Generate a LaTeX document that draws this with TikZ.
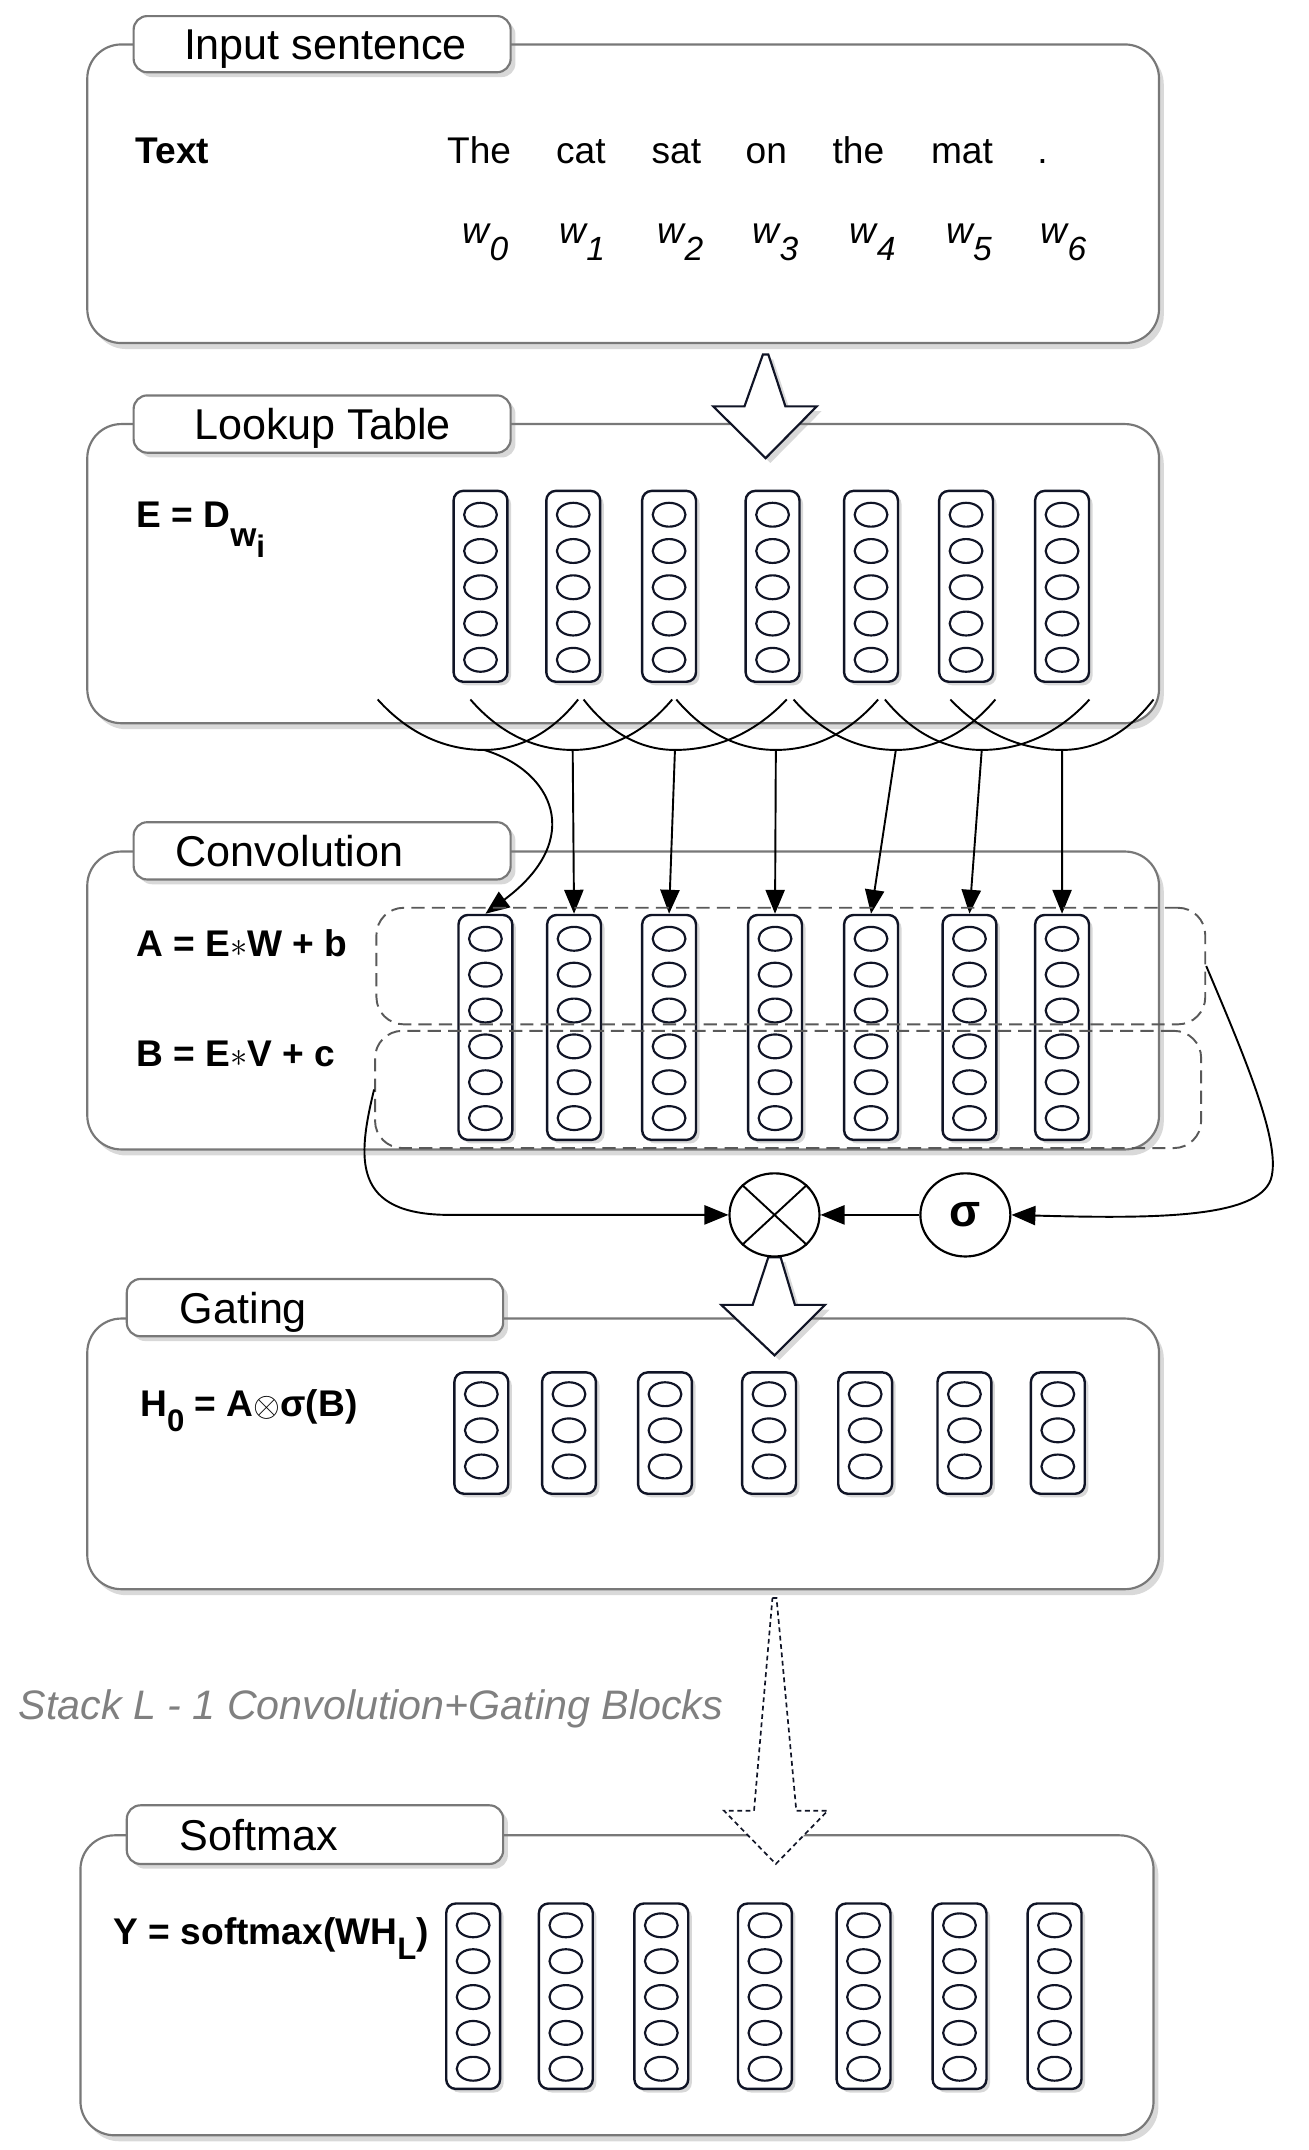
\documentclass[tikz,border=0pt]{standalone}
\usepackage{fontspec}
\setmainfont{Liberation Sans}
\usetikzlibrary{arrows.meta,shadows,shapes.geometric}
\definecolor{ink}{RGB}{16,20,38}
\definecolor{frame}{RGB}{120,120,120}
\begin{document}
\begin{tikzpicture}[x=0.02cm, y=-0.02cm,
  block/.style={draw=frame, line width=0.9pt, rounded corners=0.5cm, fill=white,
    drop shadow={opacity=0.3, shadow xshift=2pt, shadow yshift=-2.5pt}},
  tab/.style={draw=frame, line width=0.9pt, rounded corners=0.2cm, fill=white,
    drop shadow={opacity=0.3, shadow xshift=2pt, shadow yshift=-2pt}},
  title/.style={anchor=base west, inner sep=0, font=\fontsize{18}{20}\selectfont},
  eq/.style={anchor=base west, inner sep=0, font=\bfseries\fontsize{15.5}{18}\selectfont},
  word/.style={anchor=base, inner sep=0, font=\fontsize{15.5}{18}\selectfont},
  wlab/.style={anchor=base west, inner sep=0, font=\itshape\fontsize{15.5}{17}\selectfont},
  vecbox/.style={draw=ink, line width=1pt, rounded corners=0.14cm, fill=white,
    minimum width=0.79cm, inner sep=0,
    drop shadow={opacity=0.3, shadow xshift=1.5pt, shadow yshift=-1.5pt}},
  unit/.style={draw=ink, line width=0.9pt},
  hollow/.style={draw=ink, line width=0.9pt, fill=white, line join=miter,
    drop shadow={opacity=0.3, shadow xshift=2pt, shadow yshift=-2pt}},
  gatebox/.style={draw=black!65, dash pattern=on 5.5pt off 3pt, line width=0.8pt,
    rounded corners=0.4cm, inner sep=0},
  link/.style={line width=0.8pt},
  arr/.style={-{Triangle[length=10pt,width=8pt]}, line width=0.8pt},
  op/.style={draw, ellipse, line width=0.9pt, minimum width=1.32cm, minimum height=1.22cm, inner sep=0}]
\useasboundingbox (0,0) rectangle (960,1576.8);

\draw[block] (64,32.6) rectangle (850,251.6);
\draw[tab] (98,11.8) rectangle (374.5,53);
\node[title] (tin) at (134.6,43.8) {Input sentence};

\draw[block] (64,311) rectangle (850,530.4);
\draw[tab] (98,290) rectangle (374.5,332);
\node[title] (tlk) at (142,322.4) {Lookup Table};

\draw[block] (64,624.5) rectangle (850,843);
\draw[tab] (98,603) rectangle (374.5,645);
\node[title] (tcv) at (128.6,635.4) {Convolution};

\draw[block] (64,967) rectangle (850,1165.5);
\draw[tab] (93,938) rectangle (369,980);
\node[title] (tgt) at (131.6,970.4) {Gating};

\draw[block] (59,1346) rectangle (846,1566);
\draw[tab] (93,1324) rectangle (369,1367);
\node[title] (tsm) at (131.6,1357) {Softmax};

\draw[hollow] (559.5,260) -- (563.5,260) -- (576,298) -- (599,298) -- (561.5,336) -- (523,298) -- (546,298) -- cycle;
\draw[hollow] (563.5,922) -- (572.5,922) -- (583,957) -- (605,957) -- (568,994) -- (529,957) -- (552,957) -- cycle;
\draw[draw=ink, fill=white, line width=0.7pt, dash pattern=on 2pt off 1.5pt] (566.5,1172) -- (569.5,1172) -- (584,1328) -- (607,1328) -- (569,1367) -- (531,1328) -- (553,1328) -- cycle;

\node[eq] (txt) at (99,120) {Text};
\foreach \x/\t [count=\i] in {351.4/The, 426/cat, 496/sat, 562/on, 629.6/the, 705.5/mat, 764.6/{.}}
  \node[word] (t\i) at (\x,119.7) {\t};
\foreach \x [count=\i from 0] in {339,410,482,551.7,623,693.7,763}
  \node[wlab] (w\i) at (\x,178.4) {w\raisebox{-7pt}{\fontsize{14}{14}\selectfont\i}};

\node[eq] (eqE) at (99.7,387) {E = D\raisebox{-7.8pt}{\fontsize{14}{14}\selectfont w\raisebox{-4.7pt}{\fontsize{13}{13}\selectfont i}}};
\node[eq] (eqA) at (99.7,701.3) {A = E{\fontsize{14}{14}\selectfont$\ast$}W + b};
\node[eq] (eqB) at (99.7,782) {B = E{\fontsize{14}{14}\selectfont$\ast$}V + c};
\node[eq] (eqH) at (102.6,1038.5) {H\raisebox{-6.5pt}{\fontsize{13}{13}\selectfont 0} = A{\fontsize{14}{14}\selectfont$\otimes$}σ(B)};
\node[eq] (eqY) at (83,1426) {Y = softmax(WH\raisebox{-6.5pt}{\fontsize{13}{13}\selectfont L})};
\node[anchor=base west, inner sep=0, text=black!50, font=\itshape\fontsize{17.2}{20}\selectfont] (stack) at (13.4,1261.4) {Stack L - 1 Convolution+Gating Blocks};

\foreach \x [count=\i] in {352.4,420.4,490.7,566.6,638.8,708.5,778.9} {
  \node[vecbox, minimum height=2.8cm] (lk\i) at (\x,430) {};
  \foreach \k in {0,...,4}
    \draw[unit] (\x,{377.5+26.6*\k}) ellipse [x radius=0.24cm, y radius=0.175cm];
}
\foreach \x [count=\i] in {356,421,490.7,568.4,638.8,711,778.9} {
  \node[vecbox, minimum height=3.3cm] (cv\i) at (\x,753.5) {};
  \foreach \k in {0,...,5}
    \draw[unit] (\x,{688.5+26.3*\k}) ellipse [x radius=0.24cm, y radius=0.175cm];
}
\foreach \x [count=\i] in {353,417.3,487.7,564,634.5,707.3,775.8} {
  \node[vecbox, minimum height=1.78cm] (gt\i) at (\x,1051) {};
  \foreach \k in {0,...,2}
    \draw[unit] (\x,{1022.5+26.5*\k}) ellipse [x radius=0.24cm, y radius=0.175cm];
}
\foreach \x [count=\i] in {347,415,485,561,633.3,703.7,773.4} {
  \node[vecbox, minimum height=2.72cm] (sm\i) at (\x,1464) {};
  \foreach \k in {0,...,4}
    \draw[unit] (\x,{1412+26.3*\k}) ellipse [x radius=0.24cm, y radius=0.175cm];
}

\foreach \a/\c/\b [count=\i] in {277/355/424, 345/420/493, 428/495/577, 496/569/644, 582/657/730, 649/720/799, 697/779/846} {
  \coordinate (u\i) at (\c,550);
  \draw[link] (\a,513) .. controls ({\a+0.3*(\c-\a)},539) and ({\c-0.35*(\c-\a)},550) .. (u\i)
    .. controls ({\c+0.35*(\b-\c)},550) and ({\b-0.3*(\b-\c)},539) .. (\b,513);
}
\draw[arr] (u1) .. controls (405,565) and (430,615) .. (cv1.north);
\foreach \i in {2,...,7}
  \draw[arr] (u\i) -- (cv\i.north);

\node[gatebox, minimum width=12.16cm, minimum height=1.71cm] (abox) at (580,708.5) {};
\node[gatebox, minimum width=12.12cm, minimum height=1.72cm] (bbox) at (578,799) {};

\node[op] (ot) at (568,891) {};
\draw[line width=0.8pt] (ot.north west) -- (ot.south east) (ot.north east) -- (ot.south west);
\node[op, font=\bfseries\fontsize{19}{20}\selectfont] (sg) at (708,891) {σ};

\draw[arr] (sg) -- (ot);
\draw[arr] (bbox.west) .. controls (262,850) and (258,891) .. (330,891) -- (ot.west);
\draw[arr] (abox.east) .. controls (915,780) and (940,840) .. (932,865)
  .. controls (922,893) and (850,894) .. (sg.east);
\end{tikzpicture}
\end{document}
